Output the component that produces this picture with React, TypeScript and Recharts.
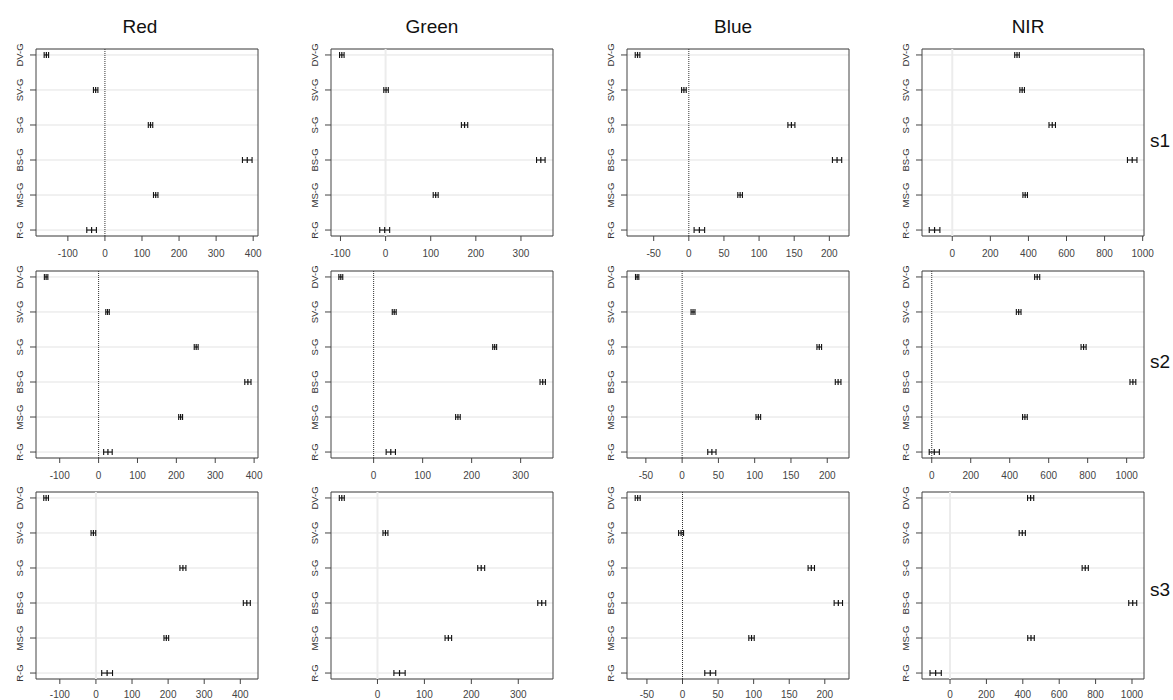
import React from 'react';
import {
  ScatterChart, Scatter, XAxis, YAxis, CartesianGrid,
  ErrorBar, ReferenceLine, ReferenceArea,
} from 'recharts';

const comparisons = ['DV-G', 'SV-G', 'S-G', 'BS-G', 'MS-G', 'R-G'];
const bands = ['Red', 'Green', 'Blue', 'NIR'];
const sites = ['s1', 's2', 's3'];

// mean difference and half-width of the interval, one pair of arrays per site/band
const s1RedDiff = [-158, -25, 123, 384, 137, -36];
const s1RedCI = [6, 6, 6, 13, 6, 13];
const s1GreenDiff = [-97, 1, 175, 344, 111, -2];
const s1GreenCI = [5, 5, 7, 9.5, 5.5, 11];
const s1BlueDiff = [-73, -7, 146, 211, 73, 15];
const s1BlueCI = [3.3, 3.3, 5, 6.6, 3.3, 7.5];
const s1NirDiff = [340, 367, 525, 945, 383, -93];
const s1NirCI = [12, 12, 17, 25, 12, 28];

const s2RedDiff = [-135, 23, 251, 384, 211, 24];
const s2RedCI = [4.5, 4.5, 5, 8, 5, 11];
const s2GreenDiff = [-67, 42, 247, 345, 172, 35];
const s2GreenCI = [4, 4, 4, 5.5, 4.7, 9.5];
const s2BlueDiff = [-62, 15, 189, 215, 105, 41];
const s2BlueCI = [2.3, 2.7, 3.2, 3.9, 3.2, 5.7];
const s2NirDiff = [541, 446, 779, 1032, 478, 13];
const s2NirCI = [13, 12, 13, 15, 12, 26];

const s3RedDiff = [-138, -7, 241, 418, 195, 31];
const s3RedCI = [6.5, 6.5, 8.3, 9.7, 6.5, 15];
const s3GreenDiff = [-76, 17, 221, 350, 151, 47];
const s3GreenCI = [5.3, 5.3, 7.4, 8.5, 7, 12];
const s3BlueDiff = [-63, -2, 181, 219, 97, 39];
const s3BlueCI = [3.5, 3.5, 4.5, 5.9, 3.8, 7.7];
const s3NirDiff = [443, 397, 743, 1004, 445, -79];
const s3NirCI = [17, 17, 17, 22, 18, 31];

const ticksRed = [-100, 0, 100, 200, 300, 400];
const ticksGreenWide = [-100, 0, 100, 200, 300];
const ticksGreen = [0, 100, 200, 300];
const ticksBlue = [-50, 0, 50, 100, 150, 200];
const ticksNir = [0, 200, 400, 600, 800, 1000];

type Panel = {
  row: number; col: number;
  diff: number[]; ci: number[];
  ticks: number[]; domain: [number, number];
  zero: 'dot' | 'soft';
};

const panels: Panel[] = [
  { row: 0, col: 0, diff: s1RedDiff, ci: s1RedCI, ticks: ticksRed, domain: [-186, 413], zero: 'dot' },
  { row: 0, col: 1, diff: s1GreenDiff, ci: s1GreenCI, ticks: ticksGreenWide, domain: [-121, 371], zero: 'soft' },
  { row: 0, col: 2, diff: s1BlueDiff, ci: s1BlueCI, ticks: ticksBlue, domain: [-88, 228], zero: 'dot' },
  { row: 0, col: 3, diff: s1NirDiff, ci: s1NirCI, ticks: ticksNir, domain: [-159, 1007], zero: 'soft' },
  { row: 1, col: 0, diff: s2RedDiff, ci: s2RedCI, ticks: ticksRed, domain: [-161, 410], zero: 'dot' },
  { row: 1, col: 1, diff: s2GreenDiff, ci: s2GreenCI, ticks: ticksGreen, domain: [-87, 366], zero: 'dot' },
  { row: 1, col: 2, diff: s2BlueDiff, ci: s2BlueCI, ticks: ticksBlue, domain: [-76, 230], zero: 'dot' },
  { row: 1, col: 3, diff: s2NirDiff, ci: s2NirCI, ticks: ticksNir, domain: [-50, 1089], zero: 'dot' },
  { row: 2, col: 0, diff: s3RedDiff, ci: s3RedCI, ticks: ticksRed, domain: [-166, 449], zero: 'soft' },
  { row: 2, col: 1, diff: s3GreenDiff, ci: s3GreenCI, ticks: ticksGreen, domain: [-99, 374], zero: 'soft' },
  { row: 2, col: 2, diff: s3BlueDiff, ci: s3BlueCI, ticks: ticksBlue, domain: [-78, 234], zero: 'dot' },
  { row: 2, col: 3, diff: s3NirDiff, ci: s3NirCI, ticks: ticksNir, domain: [-154, 1066], zero: 'soft' },
];

const COL_LEFT = [36, 331, 627, 922];
const ROW_TOP = [49, 271, 492];
const PLOT_W = 222;
const PLOT_H = 187;
const Y_W = 36;
const TOP = 10;
const RIGHT = 20;
const X_H = 32;
const Y_DOMAIN: [number, number] = [-0.17, 5.17];

const titleX = [140, 432, 733, 1028];
const siteY = [147, 368, 596];

function CompTick(props: any) {
  const { x, y, payload } = props;
  return (
    <text
      transform={`translate(${x - 5},${y}) rotate(-90)`}
      textAnchor="middle"
      fontSize={9.5}
      fill="#333"
    >
      {comparisons[payload.value]}
    </text>
  );
}

const Estimate = (props: any) => (
  <line x1={props.cx} x2={props.cx} y1={props.cy - 3} y2={props.cy + 3} stroke="#111" strokeWidth={1.2} />
);

function TukeyPanel({ p }: { p: Panel }) {
  const data = comparisons.map((name, i) => ({ name, idx: i, diff: p.diff[i], ci: p.ci[i] }));
  return (
    <div style={{ position: 'absolute', left: COL_LEFT[p.col] - Y_W, top: ROW_TOP[p.row] - TOP }}>
      <ScatterChart
        width={Y_W + PLOT_W + RIGHT}
        height={TOP + PLOT_H + X_H}
        margin={{ top: TOP, right: RIGHT, bottom: 0, left: 0 }}
      >
        <CartesianGrid horizontal vertical={false} stroke="#e3e3e3" />
        <ReferenceLine
          x={0}
          stroke={p.zero === 'dot' ? '#333' : '#ececec'}
          strokeWidth={p.zero === 'dot' ? 1 : 2}
          strokeDasharray={p.zero === 'dot' ? '1 1' : undefined}
        />
        <XAxis
          type="number"
          dataKey="diff"
          domain={p.domain}
          ticks={p.ticks}
          allowDataOverflow
          height={X_H}
          axisLine={false}
          tickSize={5}
          tickMargin={p.row === 2 ? 7 : 9}
          tickLine={{ stroke: '#444' }}
          tick={{ fontSize: 10, fill: '#444' }}
          interval={0}
        />
        <YAxis
          type="number"
          dataKey="idx"
          domain={Y_DOMAIN}
          ticks={[0, 1, 2, 3, 4, 5]}
          reversed
          allowDataOverflow
          width={Y_W}
          axisLine={false}
          tickSize={6}
          tickMargin={2}
          tickLine={{ stroke: '#444' }}
          tick={<CompTick />}
          interval={0}
        />
        <ReferenceArea
          x1={p.domain[0]} x2={p.domain[1]} y1={Y_DOMAIN[0]} y2={Y_DOMAIN[1]}
          fill="none" stroke="#444" strokeWidth={1}
        />
        <Scatter data={data} shape={<Estimate />} isAnimationActive={false}>
          <ErrorBar dataKey="ci" direction="x" width={3} stroke="#111" strokeWidth={1.1} isAnimationActive={false} />
        </Scatter>
      </ScatterChart>
    </div>
  );
}

export default function App() {
  return (
    <div
      style={{
        position: 'absolute', left: 0, top: 0, width: 1173, height: 700,
        background: '#fff', overflow: 'hidden',
        fontFamily: "'Liberation Sans', Arial, sans-serif",
      }}
    >
      {bands.map((b, i) => (
        <div
          key={b}
          style={{
            position: 'absolute', left: titleX[i] - 60, width: 120, top: 17,
            textAlign: 'center', fontSize: 19, lineHeight: '19px', color: '#111',
          }}
        >
          {b}
        </div>
      ))}
      {sites.map((s, i) => (
        <div
          key={s}
          style={{
            position: 'absolute', left: 1150, top: siteY[i] - 16,
            fontSize: 19, lineHeight: '19px', color: '#111',
          }}
        >
          {s}
        </div>
      ))}
      {panels.map((p) => (
        <TukeyPanel key={`${p.row}-${p.col}`} p={p} />
      ))}
    </div>
  );
}
